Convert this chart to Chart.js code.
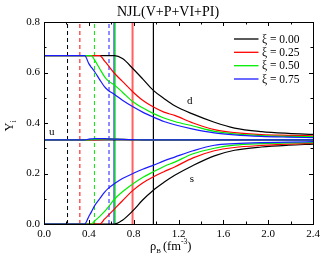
<!DOCTYPE html>
<html><head><meta charset="utf-8">
<script src="https://cdn.jsdelivr.net/npm/chart.js@4.4.1/dist/chart.umd.min.js"></script>
<style>html,body{margin:0;padding:0;background:#fff}#wrap{width:332px;height:257px}</style>
</head><body><div id="wrap"><canvas id="c" width="332" height="257"></canvas></div>
<script>
// ---- data ----
const rho = [0, 0.363, 0.40, 0.423, 0.452, 0.497, 0.541, 0.571, 0.63, 0.70, 0.794, 0.88, 0.973, 1.07, 1.166, 1.33, 1.52, 1.70, 1.94, 2.18, 2.4];
const xiLabels = ['ξ = 0.00', 'ξ = 0.25', 'ξ = 0.50', 'ξ = 0.75'];
const seriesColors = ['#000000', '#ff0000', '#00ee00', '#1a1aff'];
const dXi000 = [0.667,0.667,0.667,0.667,0.667,0.667,0.667,0.667,0.667,0.655,0.615,0.575,0.530,0.497,0.468,0.435,0.403,0.380,0.366,0.359,0.355];
const dXi025 = [0.667,0.667,0.667,0.667,0.667,0.667,0.645,0.629,0.596,0.565,0.523,0.490,0.464,0.443,0.430,0.400,0.374,0.362,0.354,0.351,0.349];
const dXi050 = [0.667,0.667,0.667,0.667,0.649,0.615,0.583,0.568,0.550,0.522,0.484,0.460,0.438,0.420,0.406,0.388,0.367,0.357,0.350,0.347,0.346];
const dXi075 = [0.667,0.667,0.635,0.620,0.603,0.572,0.543,0.530,0.513,0.490,0.464,0.443,0.424,0.406,0.393,0.376,0.361,0.353,0.347,0.344,0.342];
const sXi000 = [0,0,0,0,0,0,0,0,0,0.015,0.053,0.095,0.133,0.165,0.193,0.232,0.270,0.292,0.305,0.312,0.316];
const sXi025 = [0,0,0,0,0,0,0.020,0.033,0.060,0.092,0.133,0.162,0.186,0.207,0.226,0.262,0.290,0.303,0.311,0.316,0.319];
const sXi050 = [0,0,0,0,0.012,0.030,0.050,0.066,0.099,0.128,0.159,0.184,0.206,0.228,0.245,0.278,0.300,0.312,0.318,0.321,0.322];
const sXi075 = [0,0,0.030,0.048,0.073,0.100,0.126,0.140,0.160,0.180,0.200,0.217,0.232,0.250,0.265,0.290,0.312,0.318,0.322,0.324,0.326];
const uXi000 = [0.333,0.333,0.333,0.333,0.333,0.333,0.333,0.333,0.333,0.333,0.333,0.333,0.333,0.333,0.333,0.333,0.333,0.333,0.333,0.333,0.333];
const uXi025 = [0.333,0.333,0.333,0.333,0.333,0.334,0.335,0.336,0.336,0.335,0.334,0.333,0.333,0.333,0.333,0.333,0.333,0.333,0.333,0.333,0.333];
const uXi050 = [0.333,0.333,0.333,0.334,0.335,0.336,0.337,0.337,0.336,0.335,0.334,0.333,0.333,0.333,0.333,0.333,0.333,0.333,0.333,0.333,0.333];
const uXi075 = [0.333,0.333,0.336,0.337,0.338,0.338,0.338,0.337,0.336,0.335,0.334,0.333,0.333,0.333,0.333,0.333,0.333,0.333,0.333,0.333,0.333];
const dashedRho = [0.21, 0.32, 0.45, 0.58];
const solidRho = [0.976, 0.79, 0.634, 0.625];
const xTicks = [0.0, 0.4, 0.8, 1.2, 1.6, 2.0, 2.4];
const yTicks = [0.0, 0.2, 0.4, 0.6, 0.8];
const chartTitle = 'NJL(V+P+VI+PI)';
const curveLabels = [{t:'d', x:1.30, y:0.485}, {t:'u', x:0.07, y:0.365}, {t:'s', x:1.32, y:0.178}];

const dSets = [dXi000, dXi025, dXi050, dXi075];
const sSets = [sXi000, sXi025, sXi050, sXi075];
const uSets = [uXi000, uXi025, uXi050, uXi075];

const pts = arr => arr.map((v, i) => ({x: rho[i], y: v}));
const datasets = [];
// first dataset is drawn on top: blue first
for (let k = 3; k >= 0; k--) {
  const base = {borderColor: seriesColors[k], borderWidth: 1.2, pointRadius: 0, fill: false, cubicInterpolationMode: 'monotone'};
  datasets.push(Object.assign({data: pts(dSets[k])}, base));
  datasets.push(Object.assign({data: pts(uSets[k])}, base));
  datasets.push(Object.assign({data: pts(sSets[k])}, base));
}
const vColors = ['#000000', '#ff6060', '#00ee00', '#1a1aff'];
for (let k = 0; k < 4; k++) {
  datasets.push({data: [{x: dashedRho[k], y: 0}, {x: dashedRho[k], y: 0.8}], borderColor: seriesColors[k], borderWidth: 1, borderDash: [4, 3], pointRadius: 0});
  datasets.push({data: [{x: solidRho[k], y: 0}, {x: solidRho[k], y: 0.8}], borderColor: vColors[k], borderWidth: k === 1 ? 2 : 1.2, pointRadius: 0});
}

const FONT = '"Liberation Serif", "DejaVu Serif", serif';
Chart.defaults.font.family = FONT;

const deco = {
  id: 'deco',
  afterDraw(chart) {
    const ctx = chart.ctx, a = chart.chartArea, xs = chart.scales.x, ys = chart.scales.y;
    ctx.save();
    ctx.strokeStyle = '#000'; ctx.lineWidth = 1;
    ctx.strokeRect(Math.round(a.left) + 0.5, Math.round(a.top) + 0.5, Math.round(a.right - a.left), Math.round(a.bottom - a.top));
    ctx.beginPath();
    for (let v = 0; v <= 2.4001; v += 0.2) {
      const major = Math.abs(v / 0.4 - Math.round(v / 0.4)) < 1e-6;
      const L = major ? 4 : 2.5;
      const px = Math.round(xs.getPixelForValue(v)) + 0.5;
      ctx.moveTo(px, a.bottom); ctx.lineTo(px, a.bottom - L);
      ctx.moveTo(px, a.top); ctx.lineTo(px, a.top + L);
    }
    for (let v = 0; v <= 0.8001; v += 0.1) {
      const major = Math.abs(v / 0.2 - Math.round(v / 0.2)) < 1e-6;
      const L = major ? 4 : 2.5;
      const py = Math.round(ys.getPixelForValue(v)) + 0.5;
      ctx.moveTo(a.left, py); ctx.lineTo(a.left + L, py);
      ctx.moveTo(a.right, py); ctx.lineTo(a.right - L, py);
    }
    ctx.stroke();
    ctx.fillStyle = '#000';
    // title
    ctx.font = '14px ' + FONT; ctx.textAlign = 'center'; ctx.textBaseline = 'middle';
    ctx.fillText(chartTitle, 168, 12);
    // curve labels
    ctx.font = '11px ' + FONT;
    curveLabels.forEach(l => ctx.fillText(l.t, xs.getPixelForValue(l.x), ys.getPixelForValue(l.y)));
    // legend
    ctx.font = '11.5px ' + FONT; ctx.textAlign = 'left';
    const rows = [39, 52.3, 65.7, 79];
    for (let k = 0; k < 4; k++) {
      ctx.strokeStyle = seriesColors[k]; ctx.lineWidth = 1.3;
      ctx.beginPath(); ctx.moveTo(234, rows[k]); ctx.lineTo(258.5, rows[k]); ctx.stroke();
      ctx.fillText(xiLabels[k], 262, rows[k] + 0.5);
    }
    // x axis title  ρB (fm-3)
    ctx.textBaseline = 'alphabetic';
    ctx.font = '12.5px ' + FONT;
    let x = 150, yb = 250;
    ctx.fillText('ρ', x, yb); x += ctx.measureText('ρ').width;
    ctx.font = '7px ' + FONT; ctx.fillText('B', x, yb + 3); x += ctx.measureText('B').width + 2;
    ctx.font = '12.5px ' + FONT; ctx.fillText('(fm', x, yb); x += ctx.measureText('(fm').width;
    ctx.font = '7.5px ' + FONT; ctx.fillText('-3', x, yb - 6); x += ctx.measureText('-3').width;
    ctx.font = '12.5px ' + FONT; ctx.fillText(')', x, yb);
    // y axis title  Yi (rotated)
    ctx.translate(13, 127); ctx.rotate(-Math.PI / 2);
    ctx.font = '12.5px ' + FONT; ctx.textAlign = 'center';
    ctx.fillText('Y', 0, 0);
    ctx.font = '7.5px ' + FONT; ctx.textAlign = 'left';
    ctx.fillText('i', 4.5, 3);
    ctx.restore();
  }
};

new Chart(document.getElementById('c'), {
  type: 'line',
  data: {datasets},
  plugins: [deco],
  options: {
    responsive: false, animation: false, devicePixelRatio: 1,
    layout: {padding: {top: 22, right: 19, bottom: 0, left: 0}},
    plugins: {legend: {display: false}, tooltip: {enabled: false}, title: {display: false}},
    scales: {
      x: {type: 'linear', min: 0, max: 2.4,
          afterFit: s => { s.height = 33; },
          afterBuildTicks: s => { s.ticks = xTicks.map(v => ({value: v})); },
          grid: {display: false, drawTicks: false}, border: {display: false},
          ticks: {color: '#000', font: {size: 11}, padding: 4, maxRotation: 0, autoSkip: false, callback: v => v.toFixed(1)}},
      y: {type: 'linear', min: 0, max: 0.8,
          afterFit: s => { s.width = 44; },
          afterBuildTicks: s => { s.ticks = yTicks.map(v => ({value: v})); },
          grid: {display: false, drawTicks: false}, border: {display: false},
          ticks: {color: '#000', font: {size: 11}, padding: 4, autoSkip: false, callback: v => v.toFixed(1)}}
    }
  }
});
</script></body></html>
